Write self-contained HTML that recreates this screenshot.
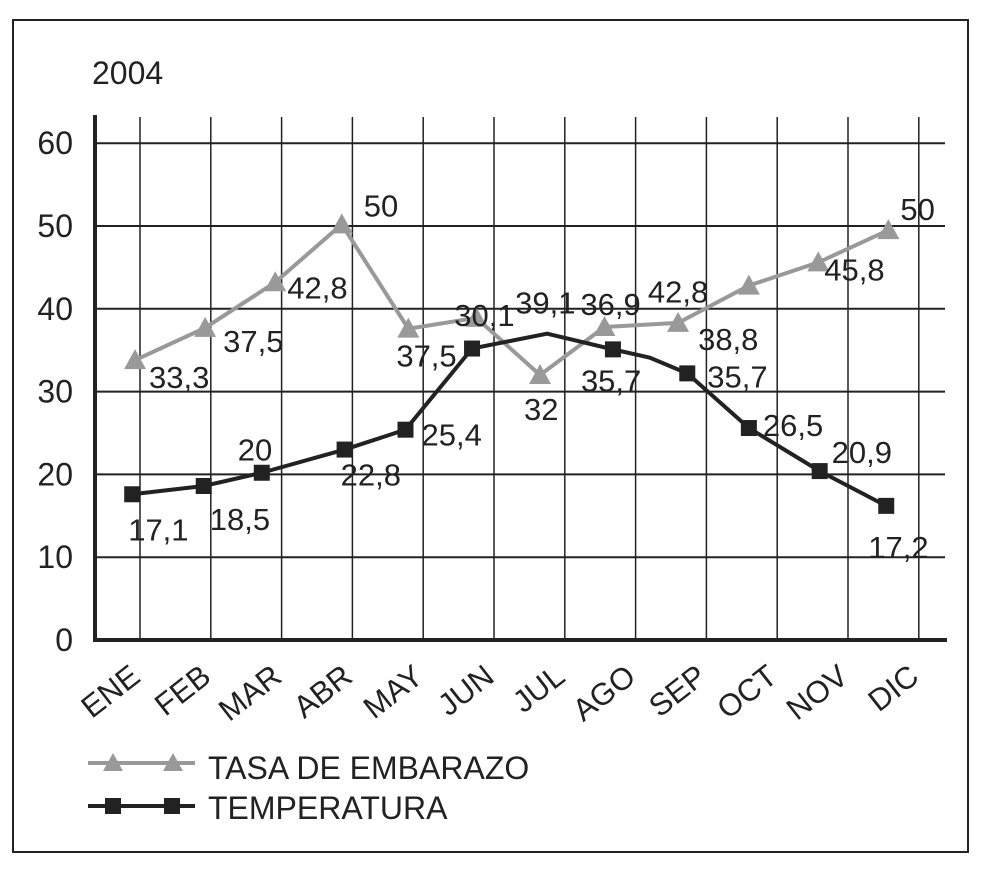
<!DOCTYPE html>
<html><head><meta charset="utf-8"><style>
body{margin:0;background:#fff;}
svg{display:block;font-family:"Liberation Sans",Arial,sans-serif;}
</style></head><body>
<svg id="chart" width="987" height="870">
<rect x="13" y="20" width="955" height="832" fill="none" stroke="#222" stroke-width="2"/>
<text x="92" y="84" font-size="32" fill="#222">2004</text>
<g id="grid"></g><g id="axes"></g><g id="series"></g><g id="labels"></g>
<g>
<g>
<line x1="88" y1="763" x2="195" y2="763" stroke="#999" stroke-width="4"/>
<polygon points="113,753 103,771 123,771" fill="#999"/>
<polygon points="173,753 163,771 183,771" fill="#999"/>
<text x="208" y="779" font-size="32" fill="#222">TASA DE EMBARAZO</text>
</g>
<g>
<line x1="88" y1="806" x2="195" y2="806" stroke="#222" stroke-width="4"/>
<rect x="105" y="798" width="16" height="16" fill="#222"/>
<rect x="164" y="798" width="16" height="16" fill="#222"/>
<text x="208" y="819" font-size="32" fill="#222">TEMPERATURA</text>
</g>
</g>
</svg>
<script>
const months=["ENE","FEB","MAR","ABR","MAY","JUN","JUL","AGO","SEP","OCT","NOV","DIC"];
const yTicks=[0,10,20,30,40,50,60];
const tasaX=[-0.07,0.92,1.91,2.85,3.79,4.75,5.65,6.56,7.6,8.6,9.58,10.57];
const tasaY=[33.8,37.7,43.2,50.2,37.6,38.9,32,37.8,38.3,42.8,45.6,49.5];
const tempX=[-0.11,0.90,1.72,2.89,3.75,4.69,5.75,6.68,7.2,7.73,8.60,9.6,10.54];
const tempY=[17.6,18.6,20.2,23,25.4,35.2,37,35.1,34.1,32.2,25.6,20.4,16.2];
const tempMarker=[1,1,1,1,1,1,0,1,0,1,1,1,1];
const tasaLabels=["33,3","37,5","42,8","50","37,5","30,1","32","36,9","38,8","42,8","45,8","50"];
const tasaLabelDx=[14,18,12,22,-12,-22,-16,-24,20,-101,6,12];
const tasaLabelDy=[28,24,16,-8,38,8,45,-12,27,17,18,-10];
const tempLabels=["17,1","18,5","20","22,8","25,4","35,2","39,1","35,7","35,7","26,5","20,9","17,2"];
const tempLabelDx=[-4,6,-24,-4,16,0,-32,-32,20,14,12,-18];
const tempLabelDy=[46,44,-12,36,16,0,-20,42,14,8,-8,52];
const tempLabelIdx=[0,1,2,3,4,-1,6,7,9,10,11,12];
const NS="http://www.w3.org/2000/svg";
const X0=140,DX=70.8,Y0=640,DY=8.28;
const xs=i=>X0+DX*i, ys=v=>Y0-DY*v;
function mk(tag,attrs,parent){const e=document.createElementNS(NS,tag);for(const k in attrs)e.setAttribute(k,attrs[k]);parent.appendChild(e);return e;}
const grid=document.getElementById('grid'),axes=document.getElementById('axes'),ser=document.getElementById('series'),lab=document.getElementById('labels');
yTicks.forEach(t=>{if(t>0){const l=mk('line',{x1:95,x2:945,y1:ys(t),y2:ys(t),stroke:'#222','stroke-width':2},grid);

}
const tx=mk('text',{x:73,y:ys(t)+11,'font-size':32,'text-anchor':'end',fill:'#222'},axes);tx.textContent=t;

});
months.forEach((m,i)=>{const l=mk('line',{x1:xs(i),x2:xs(i),y1:117,y2:640,stroke:'#222','stroke-width':1.5},grid);


const cx=xs(i)+2,cy=680;
const tx=mk('text',{x:cx,y:cy,'font-size':31,'text-anchor':'end',fill:'#222',transform:`rotate(-38 ${cx} ${cy})`},axes);tx.textContent=m;

});
let a=mk('line',{x1:95,x2:95,y1:115,y2:642,stroke:'#222','stroke-width':4},axes);

a=mk('line',{x1:93,x2:947,y1:640,y2:640,stroke:'#222','stroke-width':4},axes);

let p=mk('polyline',{points:tasaX.map((x,i)=>xs(x)+','+ys(tasaY[i])).join(' '),fill:'none',stroke:'#999','stroke-width':4},ser);

tasaX.forEach((x,i)=>{const cx=xs(x),cy=ys(tasaY[i]);
const t=mk('polygon',{points:`${cx},${cy-11} ${cx-11},${cy+9} ${cx+11},${cy+9}`,fill:'#999'},ser);


const tx=mk('text',{x:cx+tasaLabelDx[i],y:cy+tasaLabelDy[i],'font-size':31,fill:'#222'},lab);tx.textContent=tasaLabels[i];

});
p=mk('polyline',{points:tempX.map((x,i)=>xs(x)+','+ys(tempY[i])).join(' '),fill:'none',stroke:'#222','stroke-width':4},ser);

tempX.forEach((x,i)=>{if(!tempMarker[i])return;const cx=xs(x),cy=ys(tempY[i]);
const r=mk('rect',{x:cx-8,y:cy-8,width:16,height:16,fill:'#222'},ser);

});
tempLabelIdx.forEach((k,j)=>{if(k<0)return;const cx=xs(tempX[k]),cy=ys(tempY[k]);
const tx=mk('text',{x:cx+tempLabelDx[j],y:cy+tempLabelDy[j],'font-size':31,fill:'#222'},lab);tx.textContent=tempLabels[j];

});
</script>
</body></html>
